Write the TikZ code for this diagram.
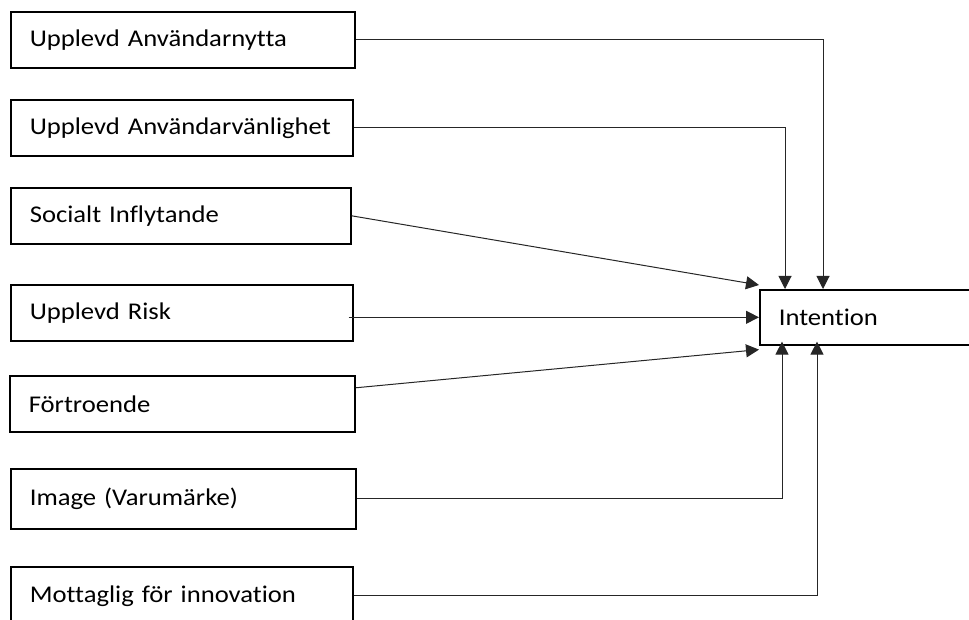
\documentclass[tikz,border=0pt]{standalone}
\usepackage{fontspec}
\setmainfont[FakeStretch=1.11, Ligatures=NoCommon]{Carlito}
\usetikzlibrary{arrows.meta}
\tikzset{
  box/.style={draw=black, line width=1.6pt, anchor=north west, minimum height=56pt,
    inner xsep=19pt, inner ysep=0pt, align=left, font=\fontsize{24}{27}\selectfont},
  conn/.style={draw=black!85, line width=1pt},
  arr/.style={conn, -{Triangle[length=13pt,width=13pt]}}
}
\begin{document}
\begin{tikzpicture}[x=1pt,y=-1pt]
\useasboundingbox (0,0) rectangle (969,620);
\node[box, minimum width=344pt, text width=306pt] (b1) at (10,11) {Upplevd Användarnytta};
\node[box, minimum width=342pt, text width=304pt] (b2) at (10,99) {Upplevd Användarvänlighet};
\node[box, minimum width=340pt, text width=302pt] (b3) at (10,187) {Socialt Inflytande};
\node[box, minimum width=342pt, text width=304pt] (b4) at (10,284) {Upplevd Risk};
\node[box, minimum width=345pt, text width=307pt] (b5) at (9,375) {Förtroende};
\node[box, minimum width=345pt, text width=307pt, minimum height=60pt] (b6) at (10,468) {Image (Varumärke)};
\node[box, minimum width=342pt, text width=304pt, minimum height=58pt] (b7) at (10,566) {Mottaglig för innovation};
\node[box, minimum width=230pt, text width=192pt, minimum height=55pt] (int) at (759,289) {Intention};
\draw[arr] (b1.east) -| ([xshift=64pt]int.north west);
\draw[arr] (b2.east) -| ([xshift=26pt]int.north west);
\draw[arr] (b3.east) -- ([yshift=4pt]int.north west);
\draw[arr] ([xshift=-5pt]b4.east |- int.west) -- (int.west);
\draw[arr] ([yshift=16pt]b5.east) -- ([yshift=-4pt]int.south west);
\draw[arr] (b6.east) -| ([xshift=23pt,yshift=4pt]int.south west);
\draw[arr] (b7.east) -| ([xshift=58pt,yshift=4pt]int.south west);
\end{tikzpicture}
\end{document}
